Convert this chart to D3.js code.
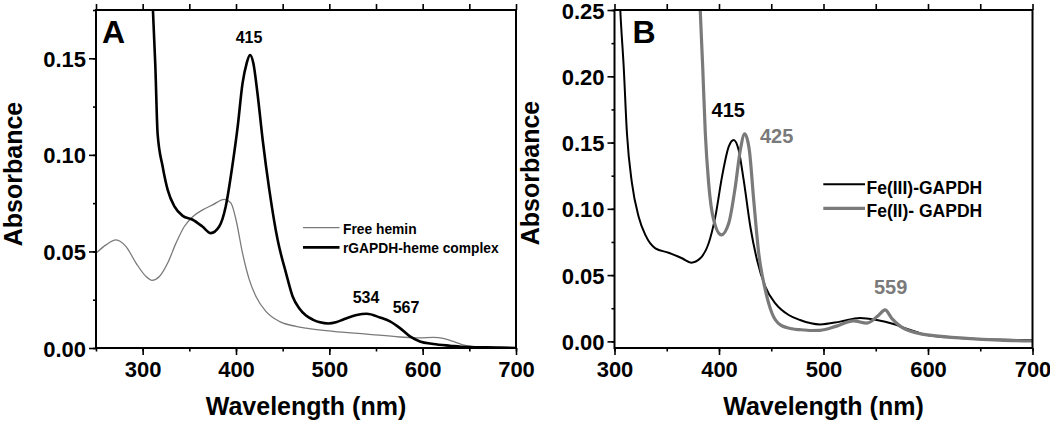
<!DOCTYPE html>
<html><head><meta charset="utf-8">
<script src="https://cdn.jsdelivr.net/npm/d3@7"></script>
<style>
html,body{margin:0;padding:0;background:#fff;}
text{font-family:"Liberation Sans",Arial,Helvetica,sans-serif;font-weight:bold;}
</style></head>
<body>
<script>
// ---------- Panel A data ----------
const wlComplexA = [305,308,311,313.6,316,321.4,326.8,334,342.9,353.6,364,373,382,389,396,401.8,407,411.4,415,418.6,423,428.6,435.7,444.6,453.6,460.7,467.9,475,482.8,490,498.9,507,515,529.3,540,554.3,565,575.7,586.4,597,611.4,629.3,647,683,700];
const absComplexA = [0.30,0.22,0.175,0.1457,0.111,0.094,0.0819,0.0733,0.0684,0.0664,0.0629,0.0595,0.0629,0.0733,0.094,0.1146,0.137,0.1474,0.1517,0.1474,0.1319,0.1077,0.0819,0.056,0.0388,0.0267,0.0205,0.0168,0.0146,0.0133,0.0127,0.0133,0.0148,0.0171,0.0177,0.0158,0.0138,0.0103,0.006,0.0034,0.0021,0.0012,0.0005,0.0002,0.0];
const wlHeminA = [250,260.7,271.4,282,292.9,303.6,310,317.9,326.8,335.7,344.6,353.6,364.3,375,387.5,394.6,400,407,414.3,421.4,432,446.4,464.3,475,504.3,540,575.7,597,611.4,622,632.8,647,665,700];
const absHeminA = [0.0491,0.0534,0.056,0.0526,0.044,0.037,0.035,0.037,0.044,0.0543,0.0629,0.068,0.0715,0.0741,0.077,0.075,0.0664,0.0491,0.0353,0.0267,0.019,0.0138,0.0112,0.0103,0.0086,0.0072,0.0057,0.0052,0.0055,0.005,0.0034,0.0012,0.0005,0.0];
const xTicksA = [300,400,500,600,700];
const yTicksA = [0.00,0.05,0.10,0.15];
const peakLabelsA = ["415","534","567"];
const legendA = ["Free hemin","rGAPDH-heme complex"];

// ---------- Panel B data ----------
const wlFe3B = [300,303,305.6,308.8,311.9,316.7,323.1,329.5,339.1,351.8,364.6,373.5,382.1,390.1,396.5,402.9,409.3,414,418.8,423.6,430,436.4,444.3,453.9,466.7,477.5,496.7,515.9,535,551,567,583,598.9,621.3,653.2,700];
const absFe3B = [0.36,0.30,0.249,0.2072,0.157,0.1193,0.0941,0.0803,0.0702,0.0669,0.0627,0.0594,0.0627,0.074,0.0941,0.1243,0.1469,0.152,0.1444,0.1218,0.0865,0.0614,0.0413,0.0287,0.0199,0.0161,0.0128,0.0149,0.0177,0.0161,0.0131,0.0086,0.0048,0.0031,0.0016,0.001];
const wlFe2B = [378,380,382.1,384.4,386.9,390.1,394.9,402.2,409.3,415.6,420.4,424.6,429,433.2,438,444.3,450.7,458.7,469.9,477.5,489,496.7,512.6,528.6,541.4,552.5,558.9,565.3,573.3,589.2,605.2,637,669,700];
const absFe2B = [0.36,0.30,0.249,0.2072,0.157,0.1193,0.0916,0.0803,0.0891,0.1167,0.1444,0.1565,0.1444,0.1067,0.0665,0.0388,0.0212,0.0124,0.0095,0.0088,0.0082,0.0083,0.0115,0.0155,0.0137,0.0195,0.0237,0.0174,0.0115,0.0063,0.0043,0.0023,0.001,0.0003];
const xTicksB = [300,400,500,600,700];
const yTicksB = [0.00,0.05,0.10,0.15,0.20,0.25];
const peakLabelsB = ["415","425","559"];
const legendB = ["Fe(III)-GAPDH","Fe(II)- GAPDH"];

const svg = d3.select("body").append("svg").attr("width",1050).attr("height",421);
const fmt = d3.format(".2f");
const gray = "#7a7a7a";

function drawPanel(o){
  const x = d3.scaleLinear().domain(o.xd).range([o.l,o.r]);
  const y = d3.scaleLinear().domain(o.yd).range([o.b,o.t]);
  const g = svg.append("g");
  const cid = "clip"+o.id;
  g.append("clipPath").attr("id",cid).append("rect")
    .attr("x",o.l).attr("y",o.t).attr("width",o.r-o.l).attr("height",o.b-o.t);
  const line = d3.line().x(d=>x(d[0])).y(d=>y(d[1])).curve(d3.curveMonotoneX);
  o.series.forEach(s=>{
    g.append("path").datum(d3.zip(s.wl,s.abs)).attr("d",line)
      .attr("fill","none").attr("stroke",s.color).attr("stroke-width",s.w)
      .attr("stroke-linejoin","round").attr("clip-path","url(#"+cid+")");
  });
  const mk = (sel)=>{sel.select(".domain").remove(); sel.selectAll(".tick line").attr("stroke","#000").attr("stroke-width",1.6);};
  const xMinor = d3.range(o.xd[0],o.xd[1]+1,50);
  g.append("g").attr("transform",`translate(0,${o.b})`)
    .call(d3.axisBottom(x).tickValues(xMinor).tickSize(3.5).tickFormat("")).call(mk);
  g.append("g").attr("transform",`translate(0,${o.b})`)
    .call(d3.axisBottom(x).tickValues(o.xt).tickSize(7).tickPadding(6).tickFormat(d3.format("d"))).call(mk)
    .selectAll("text").attr("font-size",22).attr("fill","#000");
  g.append("g").attr("transform",`translate(0,${o.t})`)
    .call(d3.axisTop(x).tickValues(xMinor).tickSize(6).tickFormat("")).call(mk);
  const yMinor = d3.range(0,o.yd[1]+0.0001,0.025);
  g.append("g").attr("transform",`translate(${o.l},0)`)
    .call(d3.axisLeft(y).tickValues(yMinor).tickSize(3).tickFormat("")).call(mk);
  g.append("g").attr("transform",`translate(${o.l},0)`)
    .call(d3.axisLeft(y).tickValues(o.yt).tickSize(7).tickPadding(3).tickFormat(fmt)).call(mk)
    .selectAll("text").attr("font-size",22).attr("fill","#000").attr("dy","0.37em");
  g.append("rect").attr("x",o.l).attr("y",o.t).attr("width",o.r-o.l).attr("height",o.b-o.t)
    .attr("fill","none").attr("stroke","#000").attr("stroke-width",2);
  g.append("text").attr("x",(o.l+o.r)/2).attr("y",415).attr("text-anchor","middle")
    .attr("font-size",25).text("Wavelength (nm)");
  g.append("text").attr("transform",`translate(${o.ytx},${o.yty}) rotate(-90)`)
    .attr("text-anchor","middle").attr("font-size",25).text("Absorbance");
  g.append("text").attr("x",o.letter[1]).attr("y",o.letter[2]).attr("font-size",32).text(o.letter[0]);
  return {x,y,g};
}

// Panel A
const A = drawPanel({id:"A",l:96,r:516,t:10,b:348,xd:[250,700],yd:[0,0.175],xt:xTicksA,yt:yTicksA,
  ytx:21.5,yty:174,letter:["A",102,42.5],
  series:[{wl:wlHeminA,abs:absHeminA,color:gray,w:1.3},{wl:wlComplexA,abs:absComplexA,color:"#000",w:2.6}]});
const peakPosA = [[249,43],[366,303],[406,312.5]];
peakLabelsA.forEach((t,i)=>{
  A.g.append("text").attr("x",peakPosA[i][0]).attr("y",peakPosA[i][1]).attr("text-anchor","middle")
    .attr("font-size",16).text(t);
});
[[gray,1.3,227.7,233.5],["#000",2.8,247.3,252.5]].forEach((c,i)=>{
  A.g.append("line").attr("x1",303).attr("x2",339.5).attr("y1",c[2]).attr("y2",c[2])
    .attr("stroke",c[0]).attr("stroke-width",c[1]);
  A.g.append("text").attr("x",343).attr("y",c[3]).attr("font-size",13.8).text(legendA[i]);
});

// Panel B
const B = drawPanel({id:"B",l:614.5,r:1032.5,t:10,b:348,xd:[300,700],yd:[-0.005,0.25],xt:xTicksB,yt:yTicksB,
  ytx:539,yty:173,letter:["B",632.5,43.3],
  series:[{wl:wlFe3B,abs:absFe3B,color:"#000",w:2},{wl:wlFe2B,abs:absFe2B,color:gray,w:3.2}]});
const peakPosB = [[728.3,117.3,"#000"],[776.7,142.7,gray],[890.7,294,gray]];
peakLabelsB.forEach((t,i)=>{
  B.g.append("text").attr("x",peakPosB[i][0]).attr("y",peakPosB[i][1]).attr("text-anchor","middle")
    .attr("font-size",20).attr("fill",peakPosB[i][2]).text(t);
});
[["#000",2,184.3,194],[gray,3.2,208.3,217.3]].forEach((c,i)=>{
  B.g.append("line").attr("x1",823.3).attr("x2",865).attr("y1",c[2]).attr("y2",c[2])
    .attr("stroke",c[0]).attr("stroke-width",c[1]);
  B.g.append("text").attr("x",866.5).attr("y",c[3]).attr("font-size",17.5).text(legendB[i]);
});
</script>
</body></html>
